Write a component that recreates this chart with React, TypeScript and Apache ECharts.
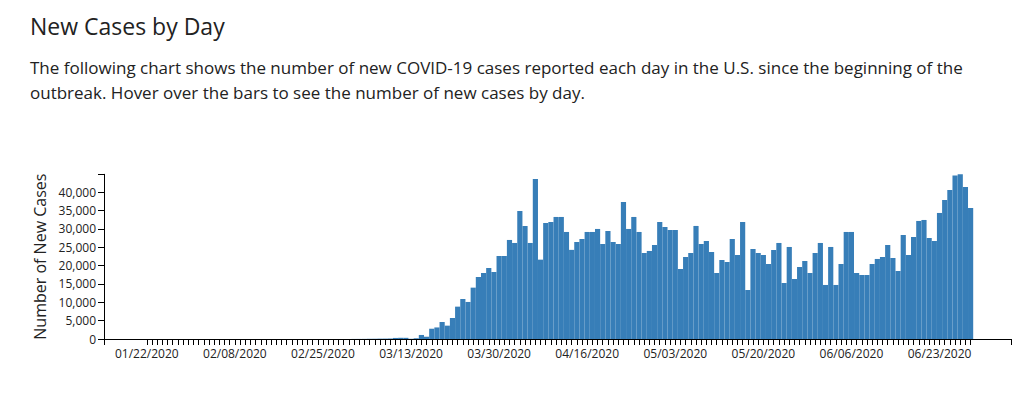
import React, { useEffect, useRef } from "react";
import * as echarts from "echarts";

const titleText = "New Cases by Day";
const descLines = [
  "The following chart shows the number of new COVID-19 cases reported each day in the U.S. since the beginning of the",
  "outbreak. Hover over the bars to see the number of new cases by day.",
];
const yAxisTitle = "Number of New Cases";

const startDate = "2020-01-22";
const dayCount = 160;

// new cases per day, 01/22/2020 .. 06/29/2020
const newCases = [
  1, 0, 1, 0, 2, 0, 0, 0, 0, 1,
  1, 1, 0, 0, 0, 0, 0, 0, 0, 0,
  1, 0, 0, 0, 0, 0, 0, 0, 0, 0,
  0, 0, 0, 0, 0, 3, 0, 1, 0, 7,
  20, 25, 35, 60, 70, 100, 110, 140, 290, 330,
  320, 60, 200, 1100, 620, 2800, 3150, 4640, 3640, 5730,
  8820, 10900, 10100, 14000, 16900, 18000, 19360, 18270, 22630, 22630,
  27000, 26180, 34900, 30800, 26180, 43630, 21630, 31630, 31900, 33270,
  33270, 29180, 24300, 26450, 27270, 29180, 29180, 30000, 25900, 29450,
  26450, 25900, 37360, 30000, 33270, 29180, 23450, 24000, 25630, 31900,
  30540, 29720, 29720, 19090, 22360, 23450, 30820, 25900, 26720, 23720,
  18000, 21540, 21000, 27270, 22900, 31900, 13360, 24540, 23450, 22900,
  20450, 24270, 26180, 15270, 25090, 16360, 19630, 21270, 18000, 23450,
  26180, 14730, 25090, 14730, 20450, 29180, 29180, 18000, 17450, 17450,
  20450, 21820, 22360, 25630, 22090, 18540, 28360, 22900, 27810, 32180,
  32450, 27540, 26720, 34360, 37900, 40630, 44600, 44900, 41450, 35720,
];

const yTickStep = 5000;

function buildDates(start: string, n: number): string[] {
  const out: string[] = [];
  const base = new Date(start + "T00:00:00Z").getTime();
  for (let i = 0; i < n; i++) {
    const d = new Date(base + i * 86400000);
    const mm = String(d.getUTCMonth() + 1).padStart(2, "0");
    const dd = String(d.getUTCDate()).padStart(2, "0");
    out.push(`${mm}/${dd}/${d.getUTCFullYear()}`);
  }
  return out;
}

const FONT = "'Open Sans', 'Noto Sans', sans-serif";
const INK = "#222";

export default function App() {
  const ref = useRef<HTMLDivElement>(null);

  useEffect(() => {
    if (!ref.current) return;
    const chart = echarts.init(ref.current, null, { renderer: "svg" });
    const dates = buildDates(startDate, dayCount);
    const yMax = Math.max(...newCases);

    const gridTop = 174.3;
    const gridBottom = 58;

    chart.setOption({
      animation: false,
      textStyle: { fontFamily: FONT },
      graphic: [
        {
          type: "text",
          x: 30,
          y: 14.5,
          style: {
            text: titleText,
            font: `23px ${FONT}`,
            fill: INK,
            textVerticalAlign: "top",
          },
        },
        {
          type: "text",
          x: 30,
          y: 58.9,
          style: {
            text: descLines[0],
            font: `17px ${FONT}`,
            fill: INK,
            textVerticalAlign: "top",
          },
        },
        {
          type: "text",
          x: 30,
          y: 83.9,
          style: {
            text: descLines[1],
            font: `17px ${FONT}`,
            fill: INK,
            textVerticalAlign: "top",
          },
        },
      ],
      grid: [
        { left: 104, right: 24, top: gridTop, bottom: gridBottom },
        { left: 144.2, right: 61.8, top: gridTop, bottom: gridBottom },
      ],
      xAxis: [
        {
          type: "value",
          gridIndex: 0,
          min: 0,
          max: 1,
          interval: 1,
          axisLine: { show: true, lineStyle: { color: "#000", width: 1 } },
          axisTick: { show: true, length: 6, lineStyle: { color: "#000" } },
          axisLabel: { show: false },
          splitLine: { show: false },
        },
        {
          type: "category",
          gridIndex: 1,
          data: dates,
          boundaryGap: true,
          axisLine: { show: false },
          axisTick: {
            show: true,
            alignWithLabel: true,
            interval: 0,
            length: 6,
            lineStyle: { color: "#000" },
          },
          axisLabel: {
            interval: 16,
            fontSize: 12,
            color: INK,
            margin: 8,
            fontFamily: FONT,
          },
          splitLine: { show: false },
        },
      ],
      yAxis: [
        {
          type: "value",
          gridIndex: 0,
          min: 0,
          max: yMax,
          interval: yTickStep,
          name: yAxisTitle,
          nameLocation: "middle",
          nameRotate: 90,
          nameGap: 54,
          nameTextStyle: { fontSize: 16, color: INK, fontFamily: FONT },
          axisLine: { show: true, lineStyle: { color: "#000", width: 1 } },
          axisTick: { show: true, length: 6, lineStyle: { color: "#000" } },
          axisLabel: {
            fontSize: 12,
            color: INK,
            margin: 8,
            fontFamily: FONT,
            formatter: (v: number) =>
              v % yTickStep === 0 ? v.toLocaleString("en-US") : "",
          },
          splitLine: { show: false },
        },
        {
          type: "value",
          gridIndex: 1,
          min: 0,
          max: yMax,
          show: false,
          splitLine: { show: false },
        },
      ],
      series: [
        {
          type: "bar",
          xAxisIndex: 1,
          yAxisIndex: 1,
          data: newCases,
          barCategoryGap: "0%",
          itemStyle: { color: "#377eb8" },
        },
      ],
    });

    return () => chart.dispose();
  }, []);

  return (
    <div
      ref={ref}
      style={{ position: "absolute", left: 0, top: 0, width: 1035, height: 397 }}
    />
  );
}
